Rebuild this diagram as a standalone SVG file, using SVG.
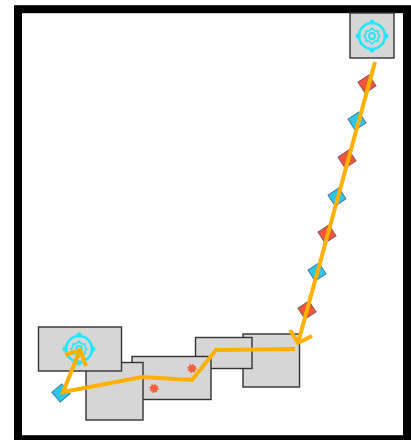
<svg xmlns="http://www.w3.org/2000/svg" width="411" height="440" viewBox="0 0 411 440">
<style>
.box{fill:#d6d6d6;stroke:#333;stroke-width:1.4}
.blue{fill:#2bc8ee;stroke:#4a7a9a;stroke-width:1}
.red{fill:#f4553a;stroke:#8a5a5a;stroke-width:1}
.line{fill:none;stroke:#ffb000;stroke-width:4;stroke-linejoin:miter}
.spot{fill:#f4603c;stroke:#f4603c;stroke-width:2;stroke-dasharray:1.4 1.4}
</style>
<defs>
<rect id="dia" x="-6.500" y="-6.500" width="13" height="13"/>
<g id="target" fill="none" stroke="#22e6fa">
<circle r="13" stroke-width="2.600"/>
<circle cy="-14" r="2.500" fill="#22e6fa" stroke="none"/>
<circle cy="14" r="2.500" fill="#22e6fa" stroke="none"/>
<circle cx="-14" r="2.500" fill="#22e6fa" stroke="none"/>
<circle cx="14" r="2.500" fill="#22e6fa" stroke="none"/>
<path d="M0-8 3-5H6V-2L8 0 6 2V5H3L0 8-3 5H-6V2L-8 0-6-2V-5H-3Z" stroke-width="1.500"/>
<circle r="3" stroke-width="1.800"/>
</g>
</defs>
<rect x="0" y="0" width="411" height="440" fill="#fff"/>
<rect id="frame" x="18" y="9.200" width="389" height="430" fill="#fff" stroke="#000" stroke-width="8"/>
<g id="node-e"><rect class="box" x="243" y="334" width="56.500" height="53"/></g>
<g id="node-d"><rect class="box" x="195.500" y="337.500" width="56.500" height="31"/></g>
<g id="node-c"><rect class="box" x="132" y="356.500" width="79" height="43"/><circle class="spot" cx="192" cy="368.500" r="3.600"/><circle class="spot" cx="154" cy="388.500" r="3.600"/></g>
<g id="node-b"><rect class="box" x="86" y="362.500" width="57" height="57.500"/></g>
<g id="node-a"><rect class="box" x="38.500" y="327" width="83" height="44"/><use href="#target" x="79" y="349"/></g>
<g id="node-f"><rect class="box" x="350" y="13" width="44" height="45"/><use href="#target" x="372" y="36"/></g>
<g id="markers">
<use href="#dia" class="red" transform="translate(367 84) rotate(-33)"/>
<use href="#dia" class="blue" transform="translate(357 121) rotate(-33)"/>
<use href="#dia" class="red" transform="translate(347 159) rotate(-33)"/>
<use href="#dia" class="blue" transform="translate(337 197) rotate(-33)"/>
<use href="#dia" class="red" transform="translate(327 234) rotate(-33)"/>
<use href="#dia" class="blue" transform="translate(317 272) rotate(-33)"/>
<use href="#dia" class="red" transform="translate(307 310) rotate(-33)"/>
<use href="#dia" class="blue" transform="translate(61 393) rotate(-40)"/>
</g>
<g id="connectors">
<path class="line" d="M375 62 298 343"/>
<path class="line" d="M290 330 298 343 312 336"/>
<path class="line" d="M295 349 216 350 192 380 142 377 63 392 80 350"/>
<path class="line" d="M65 355 80 350 86 366"/>
</g>
</svg>
